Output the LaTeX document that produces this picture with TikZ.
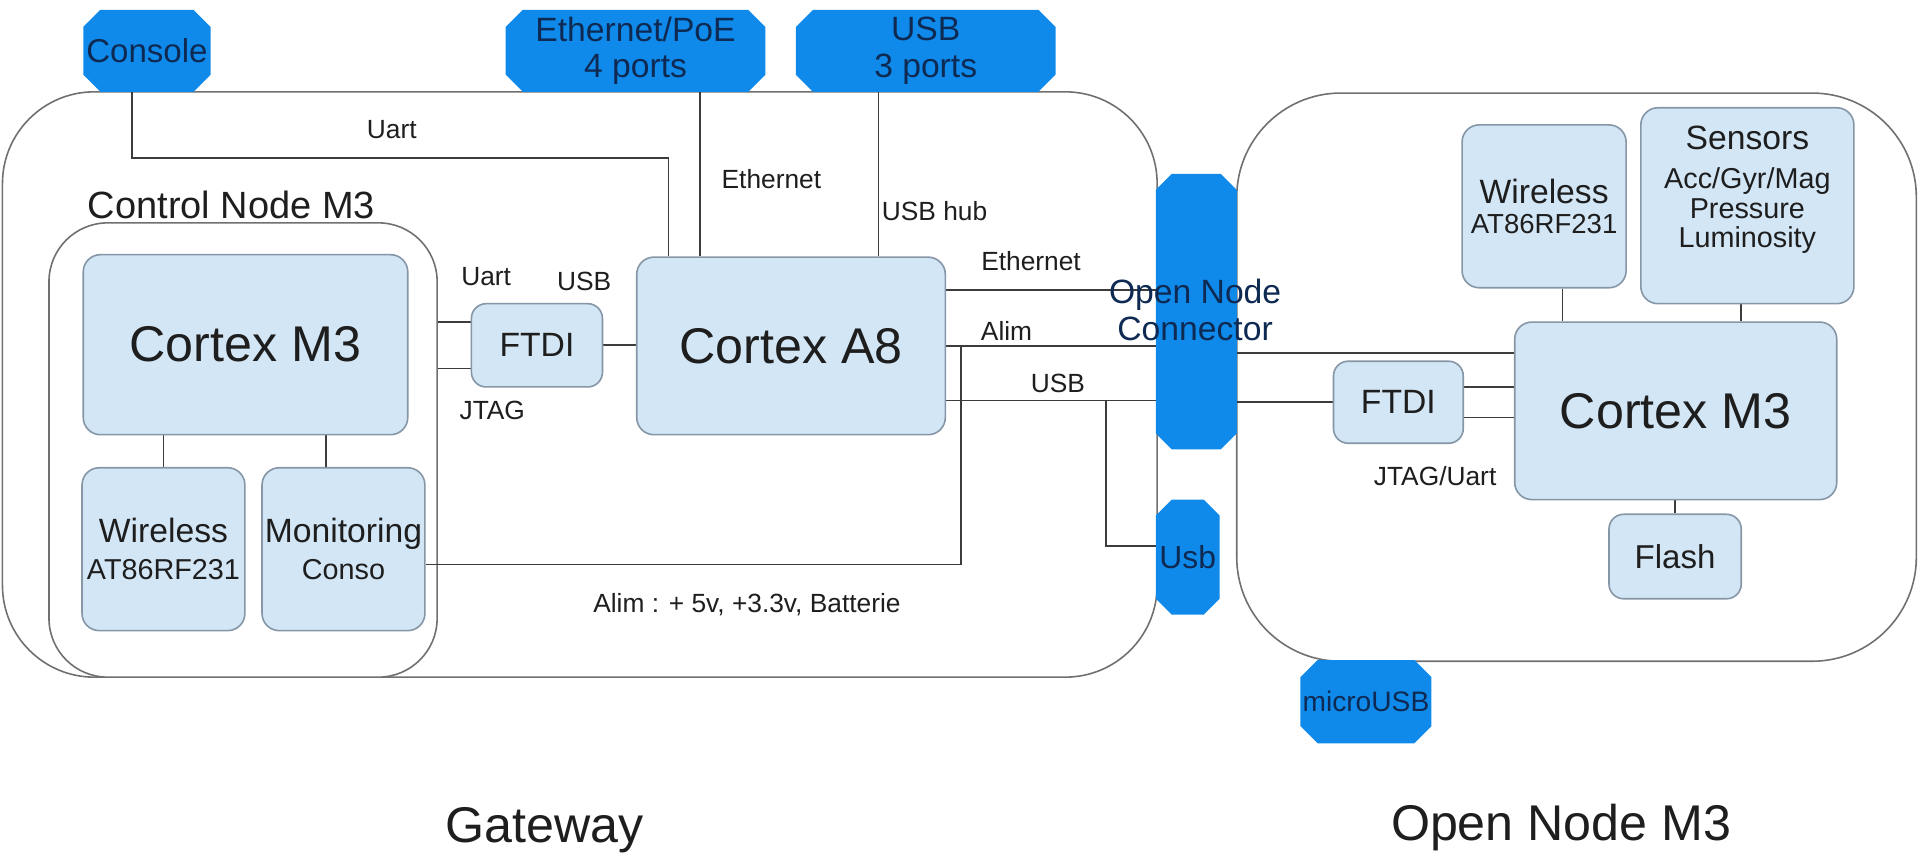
\documentclass[tikz,border=0pt]{standalone}
\usepackage{fontspec}
\setmainfont{Liberation Sans}
\usetikzlibrary{calc}
\pgfdeclarelayer{back}
\pgfdeclarelayer{lines}
\pgfsetlayers{back,lines,main}
\definecolor{octblue}{HTML}{0F8AEB}
\definecolor{octtext}{HTML}{0E2A52}
\definecolor{boxfill}{HTML}{D3E6F5}
\definecolor{boxline}{HTML}{8596A6}
\definecolor{linec}{HTML}{3C3C3C}
\definecolor{contline}{HTML}{707070}
\definecolor{txt}{HTML}{1E1E1E}
\newcommand\fXL{\fontsize{41}{44}\selectfont}
\newcommand\fCN{\fontsize{31}{34}\selectfont}
\newcommand\fMM{\fontsize{27.5}{30}\selectfont}
\newcommand\fSS{\fontsize{23.5}{26}\selectfont}
\newcommand\fLL{\fontsize{21.5}{24}\selectfont}
\tikzset{
  cont/.style={draw=contline, line width=1.3pt, fill=white, inner sep=0pt},
  bx/.style={draw=boxline, fill=boxfill, line width=1.3pt, rounded corners=14pt, inner sep=0pt, align=center, text=txt},
  octa/.style={shape=rectangle, inner sep=0pt, align=center, text=octtext,
    path picture={\fill[octblue]
      ([xshift=#1]path picture bounding box.north west) --
      ([xshift=-#1]path picture bounding box.north east) --
      ([yshift=-#1]path picture bounding box.north east) --
      ([yshift=#1]path picture bounding box.south east) --
      ([xshift=-#1]path picture bounding box.south east) --
      ([xshift=#1]path picture bounding box.south west) --
      ([yshift=#1]path picture bounding box.south west) --
      ([yshift=-#1]path picture bounding box.north west) -- cycle;}},
  octa/.default=14pt,
  conn/.style={draw=linec, line width=1.4pt},
  lbl/.style={inner sep=0pt, text=txt, font=\fLL},
  ttl/.style={inner sep=0pt, text=txt, font=\fXL},
}
\begin{document}
\begin{tikzpicture}[x=1pt, y=-1pt]
\useasboundingbox (0,0) rectangle (1568,699);
% containers
\begin{pgfonlayer}{back}
\node[cont, minimum width=943pt, minimum height=478pt, rounded corners=75pt] (gw) at (473.5,314) {};
\node[cont, minimum width=317pt, minimum height=371pt, rounded corners=48pt] (cn) at (198.5,367.5) {};
\node[cont, minimum width=555pt, minimum height=464pt, rounded corners=85pt] (on) at (1287.5,308) {};
\end{pgfonlayer}
\node[inner sep=0pt, text=txt, font=\fCN] (cnlbl) at (189,167) {Control Node M3};

% gateway boxes
\node[bx, minimum width=265pt, minimum height=147pt] (cm3g) at (200.5,281.5) {\fXL Cortex M3};
\node[bx, font=\fMM, minimum width=133pt, minimum height=133pt] (wlg) at (133.5,448.5) {Wireless\\{\fSS AT86RF231}};
\node[bx, font=\fMM, minimum width=133pt, minimum height=133pt] (mon) at (280.5,448.5) {Monitoring\\{\fSS Conso}};
\node[bx, minimum width=107pt, minimum height=68pt, rounded corners=12pt] (ftdig) at (438.5,282) {\fMM FTDI};
\node[bx, minimum width=252pt, minimum height=145pt] (a8) at (646,282.5) {\fXL Cortex A8};

% open node boxes
\node[bx, font=\fMM, minimum width=134pt, minimum height=133pt] (wlo) at (1261,168.5) {Wireless\\[-6pt]{\fontsize{22.5}{24}\selectfont AT86RF231}};
\node[bx, minimum width=174pt, minimum height=160pt] (sens) at (1427,168) {};
\node[inner sep=0pt, align=center, text=txt, font=\fontsize{23.5}{24}\selectfont] (sensT) at (1427,155) {{\fMM Sensors}\\[8pt]Acc/Gyr/Mag\\Pressure\\Luminosity};
\node[bx, minimum width=263pt, minimum height=145pt] (cm3o) at (1368.5,335.5) {\fXL Cortex M3};
\node[bx, minimum width=106pt, minimum height=67pt, rounded corners=12pt] (ftdio) at (1142,328.5) {\fMM FTDI};
\node[bx, minimum width=108pt, minimum height=69pt, rounded corners=12pt] (flash) at (1368,454.5) {\fontsize{27}{30}\selectfont Flash};

% blue ports
\node[octa, minimum width=104pt, minimum height=67pt] (console) at (120,41.5) {\fontsize{27}{30}\selectfont Console};
\node[octa, font=\fMM, minimum width=212pt, minimum height=67pt] (eth) at (519,41.5) {Ethernet/PoE\\4 ports};
\node[octa, font=\fMM, minimum width=212pt, minimum height=67pt] (usb) at (756,41.5) {USB\\3 ports};
\node[octa=13pt, minimum width=66pt, minimum height=225pt] (onc) at (977,254.5) {};
\node[inner sep=0pt, align=center, text=octtext, font=\fMM] (oncT) at (976,253) {Open Node\\Connector};
\node[octa=13pt, minimum width=52pt, minimum height=94pt] (usbp) at (970,455) {\fontsize{26}{28}\selectfont Usb};
\node[octa, minimum width=107pt, minimum height=68pt] (micro) at (1115.5,573) {\fontsize{23}{26}\selectfont microUSB};

\begin{pgfonlayer}{lines}
% connectors gateway
\coordinate (uartc) at (546,129);
\draw[conn] ([xshift=-12.4pt]console.south) |- (uartc) -- (uartc |- a8.north);
\draw[conn] ([xshift=-74.5pt]a8.north) coordinate (e1) -- (e1 |- eth.south);
\draw[conn] ([xshift=71.5pt]a8.north) coordinate (u1) -- (u1 |- usb.south);
\draw[conn] ([yshift=19pt]ftdig.west) coordinate (f1) -- (f1 -| cn.east);
\draw[conn] ([yshift=-19pt]ftdig.west) coordinate (f2) -- (f2 -| cn.east);
\draw[conn] (ftdig.east) -- (ftdig.east -| a8.west);
\draw[conn] ([yshift=45.5pt]a8.east) coordinate (a1) -- (a1 -| onc.west);
\draw[conn] (a8.east) -- (a8.east -| onc.west);
\coordinate (aj) at ([xshift=12pt]a8.east);
\draw[conn] ([yshift=-12.5pt]mon.east) -| (aj);
\draw[conn] ([yshift=-44.5pt]a8.east) coordinate (a3) -- (a3 -| onc.west);
\coordinate (usbj) at (903,327);
\draw[conn] ([yshift=9pt]usbp.west) -| (usbj);
\draw[conn] (cm3g.south -| wlg.north) -- (wlg.north);
\draw[conn] ([xshift=-14.5pt]mon.north) coordinate (m1) -- (m1 |- cm3g.south);
% connectors open node
\draw[conn] ([yshift=47.5pt]cm3o.west) coordinate (o1) -- (o1 -| onc.east);
\draw[conn] (ftdio.west) -- (ftdio.west -| onc.east);
\draw[conn] ([yshift=12.5pt]ftdio.east) coordinate (o2) -- (o2 -| cm3o.west);
\draw[conn] ([yshift=-12.5pt]ftdio.east) coordinate (o3) -- (o3 -| cm3o.west);
\draw[conn] ([xshift=15pt]wlo.south) coordinate (w1) -- (w1 |- cm3o.north);
\draw[conn] ([xshift=-5pt]sens.south) coordinate (s1) -- (s1 |- cm3o.north);
\draw[conn] (flash.north) -- (flash.north |- cm3o.south);
\end{pgfonlayer}

% connector labels
\node[lbl] (lUart) at (320,106) {Uart};
\node[lbl] (lEth) at (630,146) {Ethernet};
\node[lbl, anchor=west] (lHub) at (720,172) {USB hub};
\node[lbl] (lUart2) at (397,226) {Uart};
\node[lbl] (lUsb2) at (477,230) {USB};
\node[lbl] (lJtag) at (402,335) {JTAG};
\node[lbl] (lEth2) at (842,213) {Ethernet};
\node[lbl] (lAlim) at (822,270) {Alim};
\node[lbl] (lUsb3) at (864,313) {USB};
\node[lbl] (lAlimF) at (610,494) {Alim : + 5v, +3.3v, Batterie};
\node[lbl] (lJU) at (1172,389) {JTAG/Uart};

% titles
\node[ttl] (tGw) at (445,678) {Gateway};
\node[ttl] (tOn) at (1275,676) {Open Node M3};
\end{tikzpicture}
\end{document}
